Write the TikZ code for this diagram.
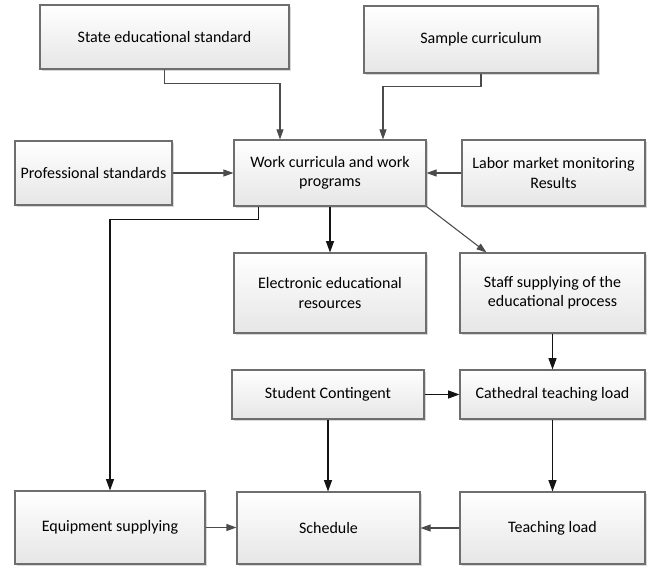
\documentclass[tikz,border=0pt]{standalone}
\usepackage{fontspec}
\setmainfont{Carlito}
\usetikzlibrary{arrows.meta,calc,shadows}
\definecolor{bordc}{RGB}{110,110,110}
\definecolor{botc}{RGB}{230,230,230}
\definecolor{darkln}{RGB}{20,20,20}
\definecolor{grayln}{RGB}{75,75,75}
\begin{document}
\begin{tikzpicture}[x=0.75pt,y=-0.75pt,
  box/.style={draw=bordc,line width=0.8pt,top color=white,bottom color=botc,
    drop shadow={shadow xshift=1.2pt,shadow yshift=-1.2pt,fill=gray!60,opacity=0.5},
    align=center,inner sep=2pt,font=\fontsize{12}{14.6}\selectfont},
  blk/.style={draw=darkln,line width=0.8pt,-{Triangle[length=8.5pt,width=6pt]}},
  gry/.style={draw=grayln,line width=0.8pt,-{Triangle[length=7.5pt,width=5.2pt]}}]
\useasboundingbox[fill=white] (0,0) rectangle (652,566);
\node[box,minimum width=186.75pt,minimum height=48pt] (state) at (164.5,37) {State educational standard};
\node[box,minimum width=175.5pt,minimum height=50.25pt] (sample) at (481,39.5) {Sample curriculum};
\node[box,minimum width=117.75pt,minimum height=48pt] (prof) at (93.5,173) {Professional standards};
\node[box,minimum width=144pt,minimum height=49.5pt] (work) at (330,173) {Work curricula and work\\programs};
\node[box,minimum width=137.25pt,minimum height=49.5pt] (labor) at (553.5,173) {Labor market monitoring\\Results};
\node[box,minimum width=144pt,minimum height=60pt] (elec) at (330,293) {Electronic educational\\resources};
\node[box,minimum width=138.75pt,minimum height=60pt] (staff) at (552.5,293) {Staff supplying of the\\educational process};
\node[box,minimum width=144pt,minimum height=36.75pt] (student) at (328,394.5) {Student Contingent};
\node[box,minimum width=138.75pt,minimum height=36.75pt] (cath) at (552.5,394.5) {Cathedral teaching load};
\node[box,minimum width=142.5pt,minimum height=54.75pt] (equip) at (110,527.5) {Equipment supplying};
\node[box,minimum width=137.25pt,minimum height=54pt] (sched) at (328.5,528) {Schedule};
\node[box,minimum width=138.75pt,minimum height=54pt] (teach) at (552.5,528) {Teaching load};
% connectors
\draw[gry] (state.south) -- ++(0,14) -| ($(work.north)+(-50,0)$);
\draw[gry] (sample.south) -- ++(0,13) -| ($(work.north)+(53,0)$);
\draw[gry] (prof.east) -- (work.west);
\draw[gry] (labor.west) -- (work.east);
\draw[blk] (work.south) -- (elec.north);
\draw[gry] (work.south east) -- ($(staff.north west)+(27,0)$);
\draw[blk] ($(work.south west)+(25,0)$) -- ++(0,13) -| (equip.north);
\draw[blk] (staff.south) -- (cath.north);
\draw[blk] (student.east) -- (cath.west);
\draw[blk] (student.south) -- (student.south |- sched.north);
\draw[blk] (cath.south) -- (teach.north);
\draw[gry] (equip.east) -- (equip.east -| sched.west);
\draw[gry] (teach.west) -- (sched.east);
\end{tikzpicture}
\end{document}
